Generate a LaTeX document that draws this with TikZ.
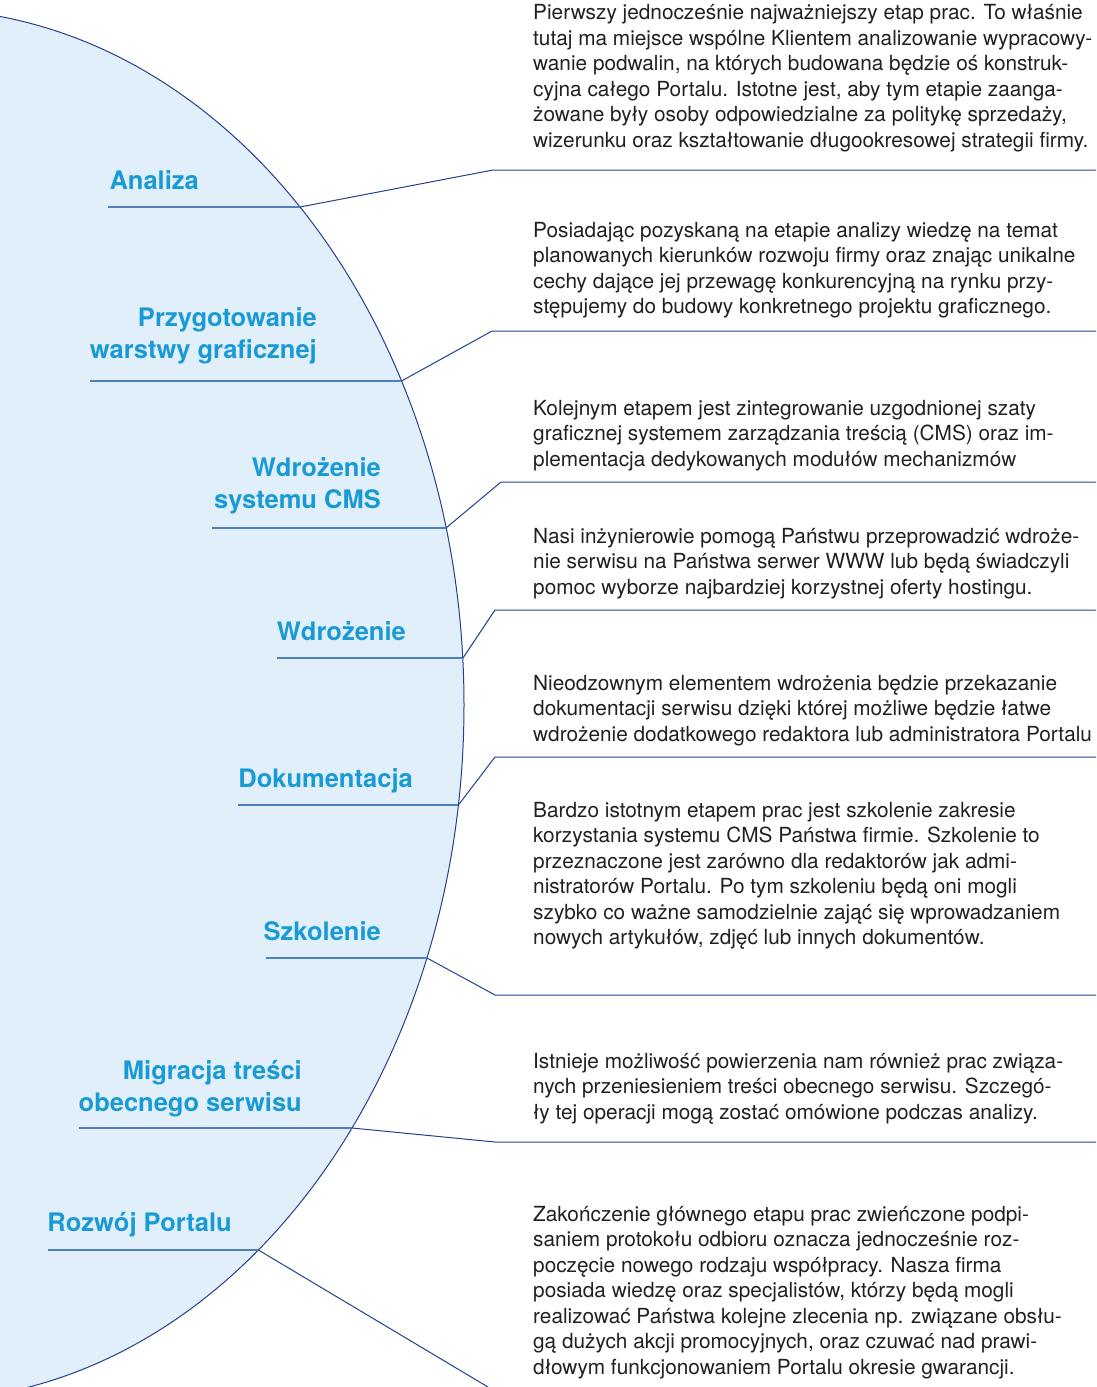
\documentclass[tikz,border=0pt]{standalone}
\usepackage{fontspec}
\setmainfont{TeX Gyre Heros}
\usetikzlibrary{calc}
\definecolor{PaleBlue}{HTML}{E1EFFA}
\definecolor{NavyLine}{HTML}{22408F}
\definecolor{RuleBlue}{HTML}{5080BC}
\definecolor{LabelBlue}{HTML}{1A9AD5}
\definecolor{BodyGray}{HTML}{231F20}
\tikzset{
    % base line width shared by the arc and the leaders
    base_width/.style={line width=1pt},
    % labels sit on the baseline of their last line
    stage_label/.style={
        anchor=base east,
        inner sep=0pt,
        align=right,
        text=LabelBlue,
        font=\fontsize{25.5}{32}\selectfont\bfseries
    },
    stage_text/.style={
        anchor=base west,
        inner sep=0pt,
        align=left,
        text=BodyGray,
        font=\fontsize{20.8}{25.5}\selectfont
    },
    underline/.style={
        draw=RuleBlue,
        line width=1.3pt
    },
    leader/.style={
        draw=NavyLine,
        base_width
    }
}

\begin{document}
\begin{tikzpicture}[x=1pt, y=-1pt]

    \useasboundingbox (0,0) rectangle (1096,1387);
    \coordinate (edge) at (1096,0);

    % --- BACKGROUND ARC ---
    \begin{scope}
        \clip (0,0) rectangle (1096,1387);
        \filldraw[fill=PaleBlue, draw=NavyLine, base_width] (-80,705) ellipse [x radius=544, y radius=696];
    \end{scope}

    % --- STAGE LABELS ---
    \node[stage_label] (analiza) at (199,189) {Analiza};
    \node[stage_label] (grafika) at (317,358) {Przygotowanie\\warstwy graficznej};
    \node[stage_label] (cms) at (381,508) {Wdrożenie\\systemu CMS};
    \node[stage_label] (wdrozenie) at (406,640) {Wdrożenie};
    \node[stage_label] (dokumentacja) at (413,787) {Dokumentacja};
    \node[stage_label] (szkolenie) at (381,940) {Szkolenie};
    \node[stage_label] (migracja) at (302,1111) {Migracja treści\\obecnego serwisu};
    \node[stage_label] (rozwoj) at (232,1231) {Rozwój Portalu};

    % --- DESCRIPTIONS ---
    \node[stage_text] (analiza_txt) at (533,147) {Pierwszy jednocześnie najważniejszy etap prac. To właśnie\\tutaj ma miejsce wspólne Klientem analizowanie wypracowy-\\wanie podwalin, na których budowana będzie oś konstruk-\\cyjna całego Portalu. Istotne jest, aby tym etapie zaanga-\\żowane były osoby odpowiedzialne za politykę sprzedaży,\\wizerunku oraz kształtowanie długookresowej strategii firmy.};
    \node[stage_text] (grafika_txt) at (533,313.5) {Posiadając pozyskaną na etapie analizy wiedzę na temat\\planowanych kierunków rozwoju firmy oraz znając unikalne\\cechy dające jej przewagę konkurencyjną na rynku przy-\\stępujemy do budowy konkretnego projektu graficznego.};
    \node[stage_text] (cms_txt) at (533,466) {Kolejnym etapem jest zintegrowanie uzgodnionej szaty\\graficznej systemem zarządzania treścią (CMS) oraz im-\\plementacja dedykowanych modułów mechanizmów};
    \node[stage_text] (wdrozenie_txt) at (533,594) {Nasi inżynierowie pomogą Państwu przeprowadzić wdroże-\\nie serwisu na Państwa serwer WWW lub będą świadczyli\\pomoc wyborze najbardziej korzystnej oferty hostingu.};
    \node[stage_text] (dokumentacja_txt) at (533,741) {Nieodzownym elementem wdrożenia będzie przekazanie\\dokumentacji serwisu dzięki której możliwe będzie łatwe\\wdrożenie dodatkowego redaktora lub administratora Portalu};
    \node[stage_text] (szkolenie_txt) at (533,944.5) {Bardzo istotnym etapem prac jest szkolenie zakresie\\korzystania systemu CMS Państwa firmie. Szkolenie to\\przeznaczone jest zarówno dla redaktorów jak admi-\\nistratorów Portalu. Po tym szkoleniu będą oni mogli\\szybko co ważne samodzielnie zająć się wprowadzaniem\\nowych artykułów, zdjęć lub innych dokumentów.};
    \node[stage_text] (migracja_txt) at (533,1119) {Istnieje możliwość powierzenia nam również prac związa-\\nych przeniesieniem treści obecnego serwisu. Szczegó-\\ły tej operacji mogą zostać omówione podczas analizy.};
    \node[stage_text] (rozwoj_txt) at (533,1374) {Zakończenie głównego etapu prac zwieńczone podpi-\\saniem protokołu odbioru oznacza jednocześnie roz-\\poczęcie nowego rodzaju współpracy. Nasza firma\\posiada wiedzę oraz specjalistów, którzy będą mogli\\realizować Państwa kolejne zlecenia np. związane obsłu-\\gą dużych akcji promocyjnych, oraz czuwać nad prawi-\\dłowym funkcjonowaniem Portalu okresie gwarancji.};

    % --- ARC CROSSINGS AND KINKS ---
    \coordinate (analiza_arc) at (300,207);
    \coordinate (analiza_kink) at (493,170);
    \coordinate (grafika_arc) at (401.5,381);
    \coordinate (grafika_kink) at (492,331);
    \coordinate (cms_arc) at (446,528);
    \coordinate (cms_kink) at (501,482);
    \coordinate (wdrozenie_arc) at (463,658);
    \coordinate (wdrozenie_kink) at (495,610);
    \coordinate (dokumentacja_arc) at (458.4,805);
    \coordinate (dokumentacja_kink) at (495,757);
    \coordinate (szkolenie_arc) at (427,958);
    \coordinate (szkolenie_kink) at (495,995);
    \coordinate (migracja_arc) at (352,1128);
    \coordinate (migracja_kink) at (495,1142);
    \coordinate (rozwoj_arc) at (258.4,1250);
    \coordinate (rozwoj_end) at (488,1387);

    % --- UNDERLINES ---
    \draw[underline] (108,207) -- (analiza_arc);
    \draw[underline] (90,381) -- (grafika_arc);
    \draw[underline] (212,528) -- (cms_arc);
    \draw[underline] (277,658) -- (wdrozenie_arc);
    \draw[underline] (238,805) -- (dokumentacja_arc);
    \draw[underline] (266,958) -- (szkolenie_arc);
    \draw[underline] (79,1128) -- (migracja_arc);
    \draw[underline] (48,1250) -- (rozwoj_arc);

    % --- LEADERS ---
    \draw[leader] (analiza_arc) -- (analiza_kink) -- (analiza_kink -| edge);
    \draw[leader] (grafika_arc) -- (grafika_kink) -- (grafika_kink -| edge);
    \draw[leader] (cms_arc) -- (cms_kink) -- (cms_kink -| edge);
    \draw[leader] (wdrozenie_arc) -- (wdrozenie_kink) -- (wdrozenie_kink -| edge);
    \draw[leader] (dokumentacja_arc) -- (dokumentacja_kink) -- (dokumentacja_kink -| edge);
    \draw[leader] (szkolenie_arc) -- (szkolenie_kink) -- (szkolenie_kink -| edge);
    \draw[leader] (migracja_arc) -- (migracja_kink) -- (migracja_kink -| edge);
    \draw[leader] (rozwoj_arc) -- (rozwoj_end);

\end{tikzpicture}
\end{document}
